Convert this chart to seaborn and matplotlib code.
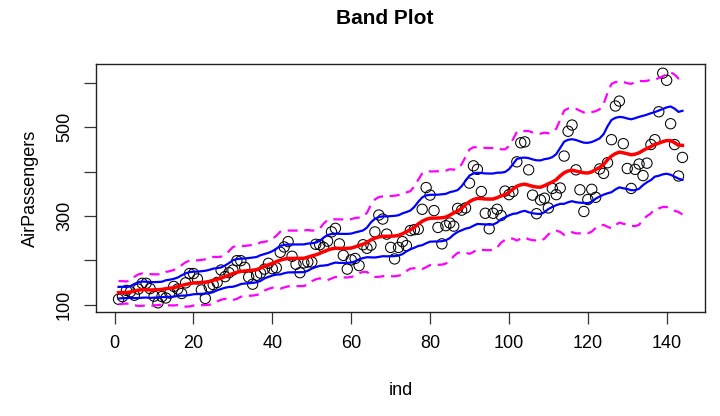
import numpy as np
import pandas as pd
import matplotlib
matplotlib.use("Agg")
import matplotlib.pyplot as plt
import seaborn as sns

# AirPassengers monthly totals, 1949-1960
passengers = [
    112, 118, 132, 129, 121, 135, 148, 148, 136, 119, 104, 118,
    115, 126, 141, 135, 125, 149, 170, 170, 158, 133, 114, 140,
    145, 150, 178, 163, 172, 178, 199, 199, 184, 162, 146, 166,
    171, 180, 193, 181, 183, 218, 230, 242, 209, 191, 172, 194,
    196, 196, 236, 235, 229, 243, 264, 272, 237, 211, 180, 201,
    204, 188, 235, 227, 234, 264, 302, 293, 259, 229, 203, 229,
    242, 233, 267, 269, 270, 315, 364, 347, 312, 274, 237, 278,
    284, 277, 317, 313, 318, 374, 413, 405, 355, 306, 271, 306,
    315, 301, 356, 348, 355, 422, 465, 467, 404, 347, 305, 336,
    340, 318, 362, 348, 363, 435, 491, 505, 404, 359, 310, 337,
    360, 342, 406, 396, 420, 472, 548, 559, 463, 407, 362, 405,
    417, 391, 419, 461, 472, 535, 622, 606, 508, 461, 390, 432,
]
ind = list(range(1, len(passengers) + 1))

sd_levels = [-2, -1, 0, 1, 2]
sd_colors = ["magenta", "blue", "red", "blue", "magenta"]
sd_widths = [1.6, 1.6, 2.5, 1.6, 1.6]
sd_styles = ["--", "-", "-", "-", "--"]

df = pd.DataFrame({"ind": ind, "AirPassengers": passengers})

# running mean +/- k*sd over a centred window of a fifth of the points,
# shrinking at the ends (as gplots bandplot / wapply "fraction" does)
y = df["AirPassengers"].to_numpy(float)
n = len(y)
w = int(np.floor(n * 0.2))
mu, sd = [], []
for i in range(1, n + 1):
    lo = max(int(np.ceil(i - w / 2)), 1)
    hi = min(int(np.floor(i + w / 2)), n)
    seg = y[lo - 1:hi]
    mu.append(seg.mean())
    sd.append(seg.std(ddof=1))
mu, sd = np.array(mu), np.array(sd)

plt.rcParams["font.family"] = ["Liberation Sans", "DejaVu Sans"]
fig = plt.figure(figsize=(7.2, 4.16), dpi=100)
ax = fig.add_axes([96 / 720, 1 - 312 / 416, (705 - 96) / 720, (312 - 64) / 416])

sns.scatterplot(data=df, x="ind", y="AirPassengers", ax=ax, s=55,
                facecolor="none", edgecolor="black", linewidth=0.75, zorder=2)

for lev, col, lw, ls in zip(sd_levels, sd_colors, sd_widths, sd_styles):
    band = pd.DataFrame({"ind": df["ind"], "val": mu + lev * sd})
    line_kw = dict(dashes=(4.5, 3)) if ls == "--" else {}
    sns.lineplot(data=band, x="ind", y="val", ax=ax, color=col, linewidth=lw,
                 estimator=None, sort=False, zorder=3, **line_kw)

x = df["ind"].to_numpy(float)
xr = x.max() - x.min()
yr = y.max() - y.min()
ax.set_xlim(x.min() - 0.04 * xr, x.max() + 0.04 * xr)
ax.set_ylim(y.min() - 0.04 * yr, y.max() + 0.04 * yr)

ax.set_xticks([0, 20, 40, 60, 80, 100, 120, 140])
ax.set_yticks([100, 200, 300, 400, 500, 600])
ax.set_yticklabels(["100", "", "300", "", "500", ""], rotation=90, va="center")
ax.tick_params(direction="out", length=8.5, width=0.9, labelsize=13, color="#333333", pad=8)

for s in ax.spines.values():
    s.set_color("#222222")
    s.set_linewidth(1.0)

ax.set_xlabel("ind", fontsize=13, labelpad=22)
ax.set_ylabel("AirPassengers", fontsize=13, labelpad=12)
fig.text(385 / 720, 1 - 18 / 416, "Band Plot", ha="center", va="center",
         fontsize=15, fontweight="bold")

fig.savefig("out.png", dpi=100)
